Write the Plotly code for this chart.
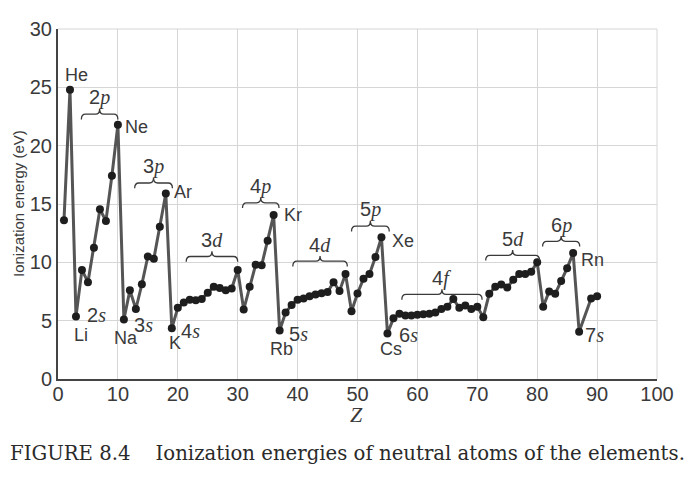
import plotly.graph_objects as go

# atomic number and first ionization energy (eV)
z = list(range(1, 88)) + [89, 90]
energy = [
    13.6, 24.8, 5.35, 9.35, 8.3, 11.26, 14.55, 13.55, 17.42, 21.8,
    5.1, 7.6, 6.0, 8.12, 10.5, 10.3, 13.05, 15.9, 4.35, 6.1,
    6.55, 6.8, 6.75, 6.85, 7.4, 7.9, 7.8, 7.6, 7.75, 9.35,
    5.95, 7.9, 9.8, 9.75, 11.85, 14.05, 4.15, 5.7, 6.35, 6.8,
    6.9, 7.1, 7.25, 7.35, 7.45, 8.3, 7.55, 9.0, 5.8, 7.33,
    8.6, 9.0, 10.45, 12.15, 3.9, 5.2, 5.6, 5.45, 5.45, 5.5,
    5.55, 5.6, 5.7, 6.0, 6.2, 6.85, 6.1, 6.3, 6.0, 6.2,
    5.3, 7.3, 7.9, 8.1, 7.85, 8.5, 9.0, 9.0, 9.2, 10.0,
    6.2, 7.5, 7.3, 8.4, 9.5, 10.8, 4.05, 6.9, 7.1,
]

x_ticks = [0, 10, 20, 30, 40, 50, 60, 70, 80, 90, 100]
y_ticks = [0, 5, 10, 15, 20, 25, 30]

sans = "Liberation Sans, Arial, sans-serif"
serif = "DejaVu Serif, serif"
ital = "<span style='font-family:Liberation Serif;font-style:italic'>%s</span>"
ink = "#3a3a3a"

# the page body adds an 8px offset, so margins are shifted to compensate
ML, MR, MT, MB = 50, 51, 21, 111
PW = 700 - ML - MR
PH = 482 - MT - MB

fig = go.Figure()
fig.add_trace(go.Scatter(
    x=z, y=energy, mode="lines+markers",
    line=dict(color="#555555", width=3),
    marker=dict(color="#1e1e1e", size=8),
    hovertemplate="Z=%{x}<br>%{y:.2f} eV<extra></extra>",
    showlegend=False,
))

# element names: (text, x, y, xanchor)
elements = [
    ("He", 3.1, 26.1, "center"), ("Ne", 10.8, 21.6, "left"),
    ("Ar", 19.1, 16.0, "left"), ("Kr", 37.4, 14.1, "left"),
    ("Xe", 55.5, 11.8, "left"), ("Rn", 87.0, 10.2, "left"),
    ("Li", 3.9, 3.8, "center"), ("Na", 11.3, 3.5, "center"),
    ("K", 19.5, 3.05, "center"), ("Rb", 37.3, 2.6, "center"),
    ("Cs", 55.6, 2.55, "center"),
]
for txt, xx, yy, anc in elements:
    fig.add_annotation(x=xx, y=yy, text=txt, showarrow=False, xanchor=anc,
                       font=dict(family=sans, size=18, color=ink))

# s-shell labels
s_labels = [("2", "s", 6.5, 5.5), ("3", "s", 14.2, 4.6), ("4", "s", 22.2, 4.15),
            ("5", "s", 40.2, 3.9), ("6", "s", 58.5, 3.8), ("7", "s", 89.6, 3.8)]
for n, l, xx, yy in s_labels:
    fig.add_annotation(x=xx, y=yy, text=n + ital % l, showarrow=False,
                       font=dict(family=sans, size=20, color=ink))

# subshell braces: (label, x0, x1, y)
braces = [
    ("2", "p", 3.9, 10.0, 22.7), ("3", "p", 12.8, 19.1, 16.8),
    ("3", "d", 21.4, 30.0, 10.5), ("4", "p", 30.8, 36.9, 15.1),
    ("4", "d", 39.2, 48.3, 10.1), ("5", "p", 49.0, 55.3, 13.1),
    ("4", "f", 57.4, 70.8, 7.25), ("5", "d", 71.4, 80.4, 10.6),
    ("6", "p", 80.9, 87.1, 11.8),
]
for n, l, x0, x1, yb in braces:
    xm = (x0 + x1) / 2
    h = 0.45
    c = 0.7
    path = (f"M {x0},{yb - h} Q {x0},{yb} {x0 + c},{yb} L {xm - c},{yb} "
            f"Q {xm},{yb} {xm},{yb + h} Q {xm},{yb} {xm + c},{yb} "
            f"L {x1 - c},{yb} Q {x1},{yb} {x1},{yb - h}")
    fig.add_shape(type="path", path=path, xref="x", yref="y",
                  line=dict(color=ink, width=1.3))
    fig.add_annotation(x=xm, y=yb + 1.4, text=n + ital % l, showarrow=False,
                       font=dict(family=sans, size=20, color=ink))

# axis titles as annotations for exact placement
fig.add_annotation(
    xref="paper", yref="paper", x=(10 - ML) / PW, y=0.5, textangle=-90,
    xanchor="center", yanchor="middle",
    text="Ionization energy (eV)", showarrow=False,
    font=dict(family=sans, size=15, color=ink),
)
fig.add_annotation(
    xref="paper", yref="paper", x=(348 - ML) / PW, y=(MT + PH - 407) / PH,
    xanchor="center", yanchor="middle",
    text="<i>Z</i>", showarrow=False,
    font=dict(family="Liberation Serif, serif", size=22, color=ink),
)

# caption under the chart
fig.add_annotation(
    xref="paper", yref="paper", x=(0 - ML) / PW, y=(MT + PH - 445) / PH,
    xanchor="left", yanchor="middle",
    text="FIGURE 8.4&nbsp;&nbsp;&nbsp;&nbsp;Ionization energies of neutral atoms of the elements.",
    showarrow=False, font=dict(family=serif, size=19.7, color="#2a2a2a"),
)

fig.update_layout(
    width=700, height=482,
    margin=dict(l=ML, r=MR, t=MT, b=MB),
    paper_bgcolor="white", plot_bgcolor="white",
    font=dict(family=sans, color=ink),
    xaxis=dict(
        range=[0, 100], tickvals=x_ticks, ticks="", automargin=False,
        ticklabelstandoff=-4,
        tickfont=dict(family=sans, size=20, color=ink),
        showgrid=True, gridcolor="#d6d6d6", gridwidth=1,
        showline=True, linecolor="#444444", linewidth=2,
        zeroline=False,
    ),
    yaxis=dict(
        range=[0, 30], tickvals=y_ticks, ticks="", automargin=False,
        tickfont=dict(family=sans, size=20, color=ink),
        showgrid=True, gridcolor="#d6d6d6", gridwidth=1,
        showline=True, linecolor="#444444", linewidth=2,
        zeroline=False,
    ),
)

# light grid line at the top and right edges of the plot area
fig.add_shape(type="line", xref="paper", yref="paper", x0=0, x1=1, y0=1, y1=1,
              line=dict(color="#d6d6d6", width=1))
fig.add_shape(type="line", xref="paper", yref="paper", x0=1, x1=1, y0=0, y1=1,
              line=dict(color="#d6d6d6", width=1))

fig.write_html("out.html")
